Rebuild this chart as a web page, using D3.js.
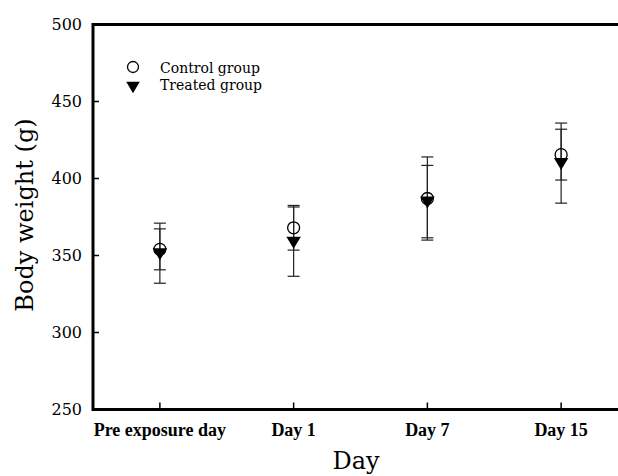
<!DOCTYPE html>
<html>
<head>
<meta charset="utf-8">
<script src="https://cdn.jsdelivr.net/npm/d3@7"></script>
<style>
  body { margin: 0; background: #fff; }
  svg { display: block; }
</style>
</head>
<body>
<div id="chart"></div>
<script>
const days = ["Pre exposure day", "Day 1", "Day 7", "Day 15"];
const controlMean = [354, 368, 387, 415.5];
const controlSd = [13.3, 14.5, 27, 16.5];
const treatedMean = [351.5, 359, 385, 410];
const treatedSd = [19.5, 22.5, 23.5, 26];
const yTicks = [250, 300, 350, 400, 450, 500];

const width = 618, height = 476;
const serif = "'DejaVu Serif', serif";

const svg = d3.select("#chart").append("svg")
  .attr("width", width)
  .attr("height", height);

const x = d3.scaleLinear().domain([-0.5, 3.5]).range([93, 628]);
const y = d3.scaleLinear().domain([250, 500]).range([409.5, 24.5]);

// frame: left, top, bottom (right edge runs off the page)
svg.append("rect")
  .attr("x", x(-0.5))
  .attr("y", y(500))
  .attr("width", x(3.5) - x(-0.5))
  .attr("height", y(250) - y(500))
  .attr("fill", "none")
  .attr("stroke", "#000")
  .attr("stroke-width", 3);

// y ticks (inward) and labels
svg.append("g")
  .selectAll("line")
  .data(yTicks.slice(1, -1))
  .join("line")
  .attr("x1", x(-0.5))
  .attr("x2", x(-0.5) + 6)
  .attr("y1", d => y(d))
  .attr("y2", d => y(d))
  .attr("stroke", "#000")
  .attr("stroke-width", 1.5);

svg.append("g")
  .selectAll("text")
  .data(yTicks)
  .join("text")
  .attr("x", x(-0.5) - 11)
  .attr("y", d => y(d))
  .attr("dy", "0.36em")
  .attr("text-anchor", "end")
  .style("font-family", serif)
  .style("font-size", "16px")
  .text(d => d);

// x ticks (inward) and labels
svg.append("g")
  .selectAll("line")
  .data(days)
  .join("line")
  .attr("x1", (d, i) => x(i))
  .attr("x2", (d, i) => x(i))
  .attr("y1", y(250))
  .attr("y2", y(250) - 7)
  .attr("stroke", "#000")
  .attr("stroke-width", 1.5);

svg.append("g")
  .selectAll("text")
  .data(days)
  .join("text")
  .attr("x", (d, i) => x(i))
  .attr("y", 436)
  .attr("text-anchor", "middle")
  .style("font-family", "'Liberation Serif', 'Times New Roman', serif")
  .style("font-weight", "bold")
  .style("font-size", "18px")
  .text(d => d);

// axis titles
svg.append("text")
  .attr("x", 356)
  .attr("y", 469)
  .attr("text-anchor", "middle")
  .style("font-family", serif)
  .style("font-size", "24px")
  .text("Day");

svg.append("text")
  .attr("transform", "translate(33,215) rotate(-90)")
  .attr("text-anchor", "middle")
  .style("font-family", serif)
  .style("font-size", "24px")
  .text("Body weight (g)");

// error bars
const series = [
  { mean: controlMean, sd: controlSd },
  { mean: treatedMean, sd: treatedSd }
];
const capHalf = 6;
series.forEach(s => {
  const g = svg.append("g")
    .attr("stroke", "#222")
    .attr("stroke-width", 1.2);
  days.forEach((d, i) => {
    const cx = x(i);
    const top = y(s.mean[i] + s.sd[i]);
    const bot = y(s.mean[i] - s.sd[i]);
    g.append("line").attr("x1", cx).attr("x2", cx).attr("y1", top).attr("y2", bot);
    g.append("line").attr("x1", cx - capHalf).attr("x2", cx + capHalf).attr("y1", top).attr("y2", top);
    g.append("line").attr("x1", cx - capHalf).attr("x2", cx + capHalf).attr("y1", bot).attr("y2", bot);
  });
});

const triangle = (cx, cy, w, h) =>
  `M${cx - w / 2},${cy - h / 2}L${cx + w / 2},${cy - h / 2}L${cx},${cy + h / 2}Z`;

// control: open circles
svg.append("g")
  .selectAll("circle")
  .data(controlMean)
  .join("circle")
  .attr("cx", (d, i) => x(i))
  .attr("cy", d => y(d))
  .attr("r", 6)
  .attr("fill", "none")
  .attr("stroke", "#000")
  .attr("stroke-width", 1.3);

// treated: filled down triangles
svg.append("g")
  .selectAll("path")
  .data(treatedMean)
  .join("path")
  .attr("d", (d, i) => triangle(x(i), y(d) + 1, 14.5, 12))
  .attr("fill", "#000");

// legend
const legend = svg.append("g");
legend.append("circle")
  .attr("cx", 133).attr("cy", 67).attr("r", 5.5)
  .attr("fill", "none").attr("stroke", "#000").attr("stroke-width", 1.3);
legend.append("path")
  .attr("d", triangle(133, 87.5, 13.5, 11.5))
  .attr("fill", "#000");
legend.selectAll("text")
  .data(["Control group", "Treated group"])
  .join("text")
  .attr("x", 160)
  .attr("y", (d, i) => 73 + i * 17)
  .style("font-family", serif)
  .style("font-size", "14px")
  .text(d => d);
</script>
</body>
</html>
